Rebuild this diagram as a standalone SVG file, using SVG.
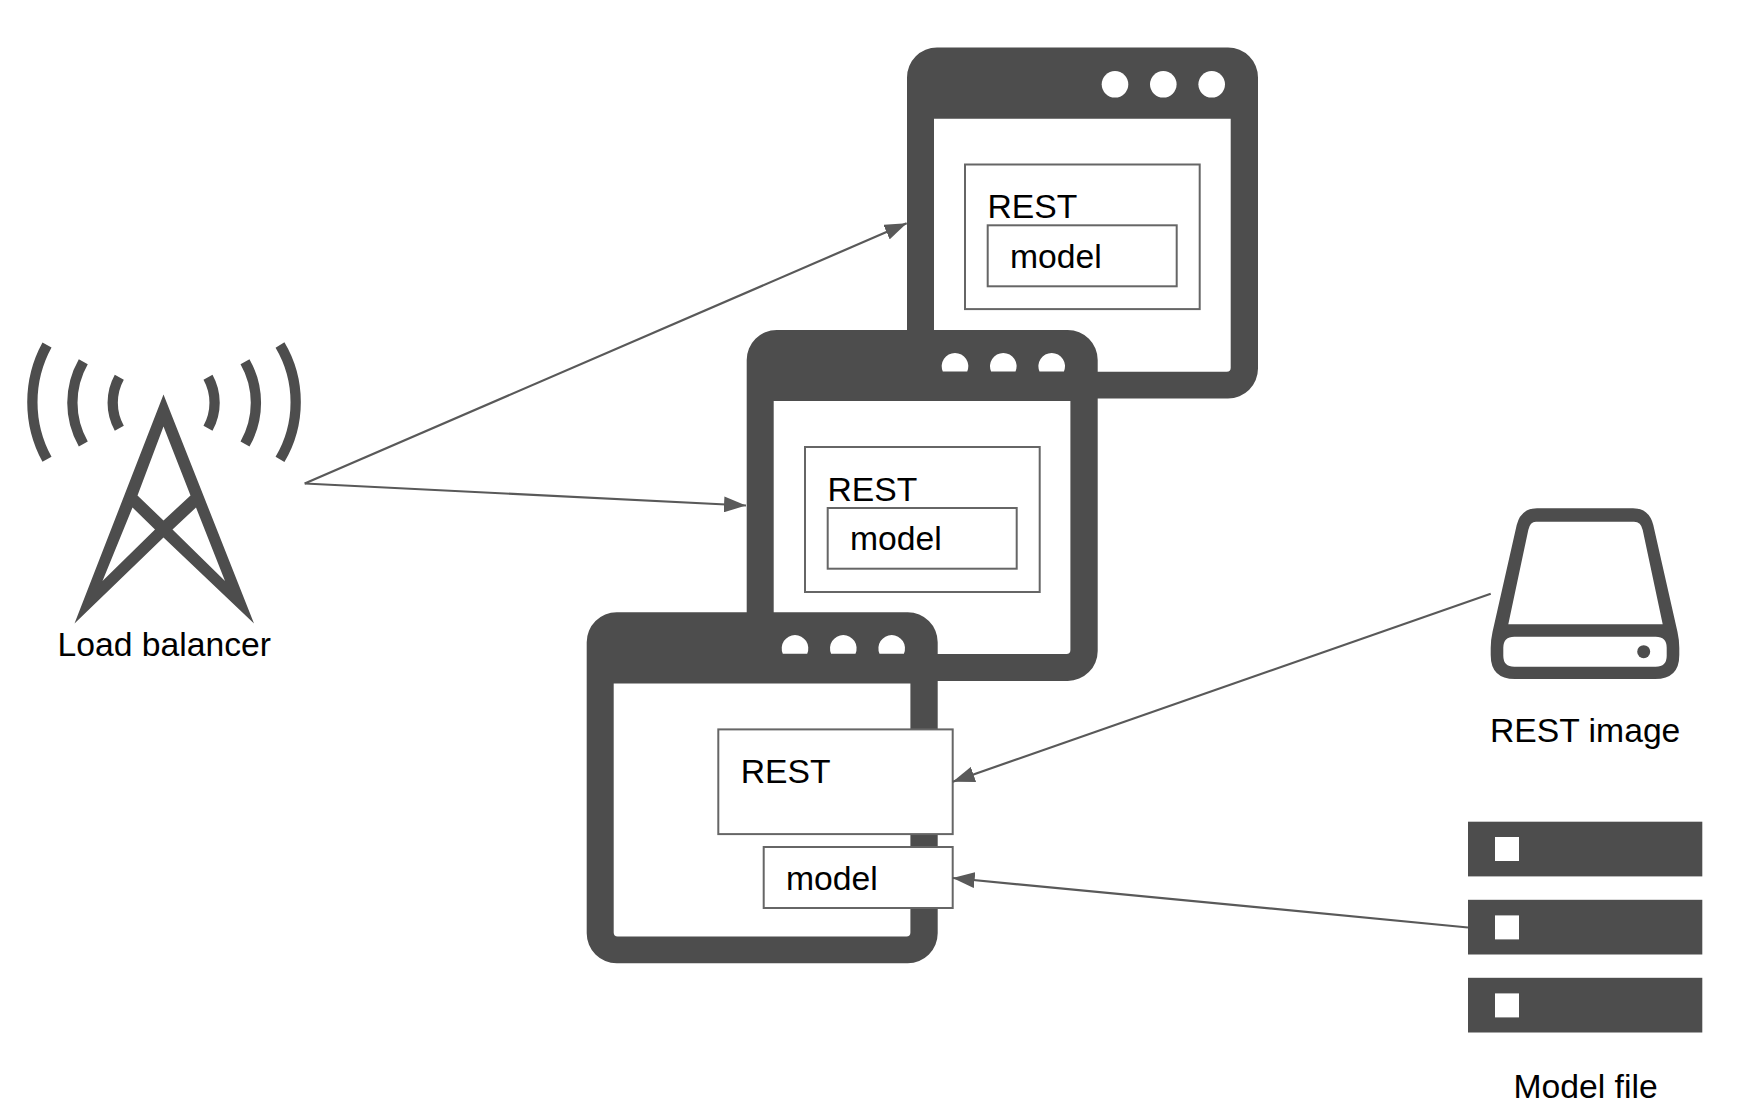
<svg xmlns="http://www.w3.org/2000/svg" xmlns:xlink="http://www.w3.org/1999/xlink" width="1740" height="1112" viewBox="0 0 1740 1112">
<style>
.dark{fill:#4d4d4d}
.hole{fill:#fff}
.box{fill:#fff;stroke:#666;stroke-width:2}
.label{font-family:"Liberation Sans",Arial,sans-serif;font-size:33.7px;fill:#000}
.arc{fill:none;stroke:#4d4d4d;stroke-width:10.3}
.conn{fill:none;stroke:#595959;stroke-width:2.2}
</style>
<defs>
<marker id="head" markerUnits="userSpaceOnUse" markerWidth="22" markerHeight="16" refX="22" refY="8" orient="auto">
<polygon points="0,0 22,8 0,16" fill="#595959"/>
</marker>
<path id="frame" fill-rule="evenodd" d="M937,47.5H1228A30,30 0 0 1 1258,77.5V368.5A30,30 0 0 1 1228,398.5H937A30,30 0 0 1 907,368.5V77.5A30,30 0 0 1 937,47.5ZM934,118.7V367.7A4,4 0 0 0 938,371.7H1226.7A4,4 0 0 0 1230.7,367.7V118.7Z"/>
</defs>
<rect width="1740" height="1112" fill="#fff"/>

<g id="window-top">
<use xlink:href="#frame" href="#frame" class="dark"/>
<circle class="hole" cx="1115" cy="84.3" r="13.3"/>
<circle class="hole" cx="1163.3" cy="84.3" r="13.3"/>
<circle class="hole" cx="1211.7" cy="84.3" r="13.3"/>
<rect class="box" x="965" y="164.5" width="234.7" height="144.6"/>
<text class="label" x="987.5" y="218.3">REST</text>
<rect class="box" x="987.7" y="225.3" width="189" height="61"/>
<text class="label" x="1010" y="267.8">model</text>
</g>

<g id="window-middle">
<use xlink:href="#frame" href="#frame" class="dark" transform="translate(-160.3 282.4)"/>
<path class="hole" d="M942.8,371.5A13.3,13.3 0 1 1 967.2,371.5ZM991.1,371.5A13.3,13.3 0 1 1 1015.5,371.5ZM1039.5,371.5A13.3,13.3 0 1 1 1063.9,371.5Z"/>
<rect class="box" x="805" y="447" width="234.7" height="145"/>
<text class="label" x="827.5" y="500.7">REST</text>
<rect class="box" x="827.7" y="508" width="189" height="60.7"/>
<text class="label" x="850" y="549.8">model</text>
</g>

<g id="window-bottom">
<use xlink:href="#frame" href="#frame" class="dark" transform="translate(-320.3 564.7)"/>
<path class="hole" d="M782.8,653.7A13.3,13.3 0 1 1 807.2,653.7ZM831.1,653.7A13.3,13.3 0 1 1 855.5,653.7ZM879.5,653.7A13.3,13.3 0 1 1 903.9,653.7Z"/>
<rect class="box" x="718.3" y="729.4" width="234.4" height="104.7"/>
<text class="label" x="740.8" y="783">REST</text>
<rect class="box" x="763.7" y="847" width="189" height="61"/>
<text class="label" x="786" y="889.8">model</text>
</g>

<g id="load-balancer">
<path class="dark" fill-rule="evenodd" d="M163.5,394.5L254,623.5L163.5,537.5L74.5,623.5ZM163.5,426.5L137.5,495.5L163.5,520.5L190.5,495.5ZM132.5,507.5L102.5,581L155,529.5ZM196,507.5L172.5,529.5L225,581Z"/>
<path class="arc" d="M47,345A119,119 0 0 0 47,459.3"/>
<path class="arc" d="M83.3,361.7A83,83 0 0 0 83.3,444"/>
<path class="arc" d="M119.3,377.3A52.6,52.6 0 0 0 119.3,428.3"/>
<path class="arc" d="M280,345A112,112 0 0 1 280,459.3"/>
<path class="arc" d="M245,361.7A83,83 0 0 1 245,444"/>
<path class="arc" d="M208,377.3A52.6,52.6 0 0 1 208,428.3"/>
<text class="label" x="57.5" y="656.2">Load balancer</text>
</g>

<g id="rest-image">
<path class="dark" fill-rule="evenodd" d="M1537,508.3H1633Q1649,508.3 1653.3,525L1677.5,632Q1679.3,640 1679.3,648V655Q1679.3,679 1655,679H1515Q1490.7,679 1490.7,655V648Q1490.7,640 1492.5,632L1516.7,525Q1521,508.3 1537,508.3ZM1536,521.7Q1530,521.7 1528.3,530L1508.3,624.3H1662.7L1642.7,530Q1641,521.7 1634,521.7ZM1514.3,636.7Q1503.3,636.7 1503.3,647.7V655.7Q1503.3,666.7 1514.3,666.7H1655.7Q1666.7,666.7 1666.7,655.7V647.7Q1666.7,636.7 1655.7,636.7Z"/>
<circle class="dark" cx="1643.7" cy="651.7" r="6.5"/>
<text class="label" x="1490" y="742.3">REST image</text>
</g>

<g id="model-file">
<rect class="dark" x="1468" y="821.7" width="234.3" height="54.7"/>
<rect class="hole" x="1495" y="837" width="24" height="24"/>
<rect class="dark" x="1468" y="899.8" width="234.3" height="54.7"/>
<rect class="hole" x="1495" y="915.4" width="24" height="24"/>
<rect class="dark" x="1468" y="977.8" width="234.3" height="54.7"/>
<rect class="hole" x="1495" y="993.4" width="24" height="24"/>
<text class="label" x="1513.5" y="1097.5">Model file</text>
</g>

<g id="connectors">
<line class="conn" x1="304.7" y1="483.5" x2="906.7" y2="223.3" marker-end="url(#head)"/>
<line class="conn" x1="304.7" y1="483.5" x2="746" y2="505.5" marker-end="url(#head)"/>
<line class="conn" x1="1490.7" y1="593.7" x2="952.7" y2="781.7" marker-end="url(#head)"/>
<line class="conn" x1="1468" y1="927.5" x2="952.7" y2="878" marker-end="url(#head)"/>
</g>
</svg>
